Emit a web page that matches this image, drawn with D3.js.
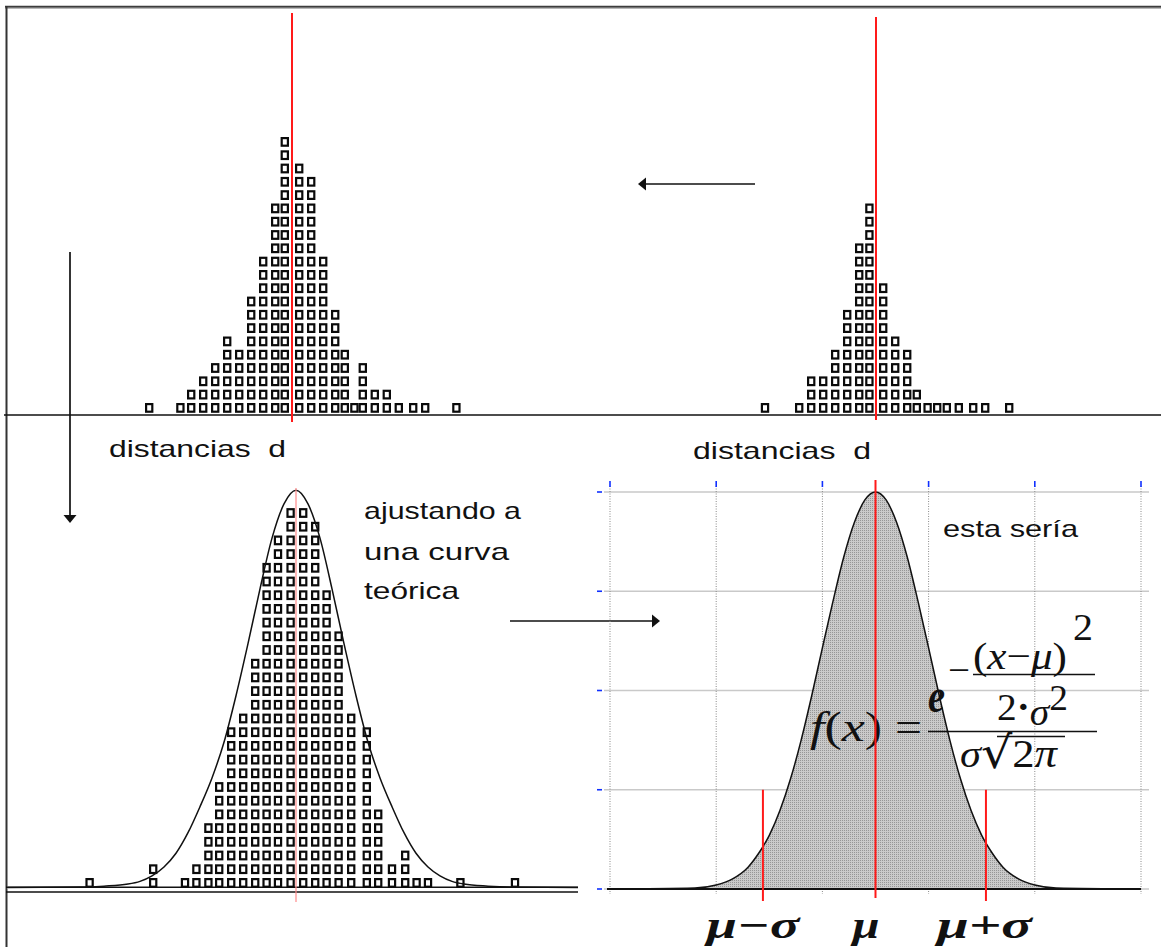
<!DOCTYPE html>
<html><head><meta charset="utf-8">
<script src="https://cdn.jsdelivr.net/npm/d3@7"></script>
<style>body{margin:0;background:#fff} svg{display:block}</style>
</head><body>
<script>
// ---------- DATA ----------
// Panel A (top-left): dot plot of distances d, column position (relative to mean) and number of stacked points
const sampleA_pos = [-11.9,-9.3,-8.4,-7.4,-6.4,-5.4,-4.4,-3.4,-2.4,-1.4,-0.6,0.6,1.6,2.6,3.6,4.4,5.2,5.9,6.9,7.9,8.9,10.1,11.1,13.7];
const sampleA_cnt = [1,1,2,3,4,6,5,9,12,16,21,19,18,12,8,5,1,4,2,2,1,1,1,1];
// Panel B (top-right)
const sampleB_pos = [-9.25,-6.4,-5.4,-4.4,-3.4,-2.4,-1.4,-0.55,0.6,1.6,2.6,3.4,4.3,5.1,5.9,6.9,8.1,9.1,11.1];
const sampleB_cnt = [1,1,3,3,5,8,13,16,10,6,5,2,1,1,1,1,1,1,1];
// Panel C (bottom-left): larger sample fitted by a curve
const sampleC_pos = [-17.2,-11.9,-9.25,-8.3,-7.3,-6.4,-5.4,-4.4,-3.4,-2.45,-1.5,-0.45,0.6,1.6,2.55,3.55,4.6,5.9,6.85,8.0,9.1,10.05,11.0,13.7,18.25];
const sampleC_cnt = [1,2,1,2,5,8,12,13,17,24,26,28,28,27,22,19,13,12,6,2,3,1,1,1,1];
// fitted curve traced over panel C (d, height in point-count units)
const curveC_d = [-24,-18,-16,-14,-13,-12,-11,-10,-9,-8,-7,-6,-5,-4,-3,-2,-1,0,1,2,3,4,5,6,7,8,9,10,11,12,13,14,16,18,23.5];
const curveC_h = [0,0.03,0.1,0.25,0.45,0.85,1.5,2.5,4.0,5.9,8.0,10.6,14.0,17.8,21.8,25.5,28.0,29,28.0,25.5,21.8,17.8,14.0,10.6,8.0,5.9,4.0,2.5,1.5,0.85,0.45,0.25,0.1,0.03,0];
// Panel D (bottom-right): theoretical curve on a grid
const curveD_x = [0,0.8,1.0,1.15,1.3,1.4,1.5,1.6,1.7,1.8,1.9,2.0,2.1,2.2,2.3,2.4,2.5,2.6,2.7,2.8,2.9,3.0,3.1,3.2,3.3,3.4,3.5,3.6,3.7,3.85,4.0,4.2,5.0];
const curveD_y = [0,0.01,0.04,0.10,0.22,0.36,0.54,0.79,1.11,1.50,1.95,2.43,2.90,3.34,3.69,3.92,4.0,3.92,3.69,3.34,2.90,2.43,1.95,1.50,1.11,0.79,0.54,0.36,0.22,0.10,0.04,0.01,0];
const muD = 2.5;
const sigmaMarksD = [1.44, 3.54];
const gridXD = [0,1,2,3,4,5];
const gridYD = [0,1,2,3,4];
const labelsD = ["μ−σ","μ","μ+σ"];

// ---------- SETUP ----------
const W = 1161, H = 947;
const svg = d3.select("body").append("svg").attr("width", W).attr("height", H);
const defs = svg.append("defs");
const pat = defs.append("pattern").attr("id","dots").attr("width",2).attr("height",2).attr("patternUnits","userSpaceOnUse");
pat.append("rect").attr("width",2).attr("height",2).attr("fill","#cacaca");
pat.append("rect").attr("width",1).attr("height",1).attr("fill","#969696");

const sans = "'Liberation Sans', Arial, sans-serif";
const serif = "'Liberation Serif', 'Times New Roman', serif";

// scales
const xA = d3.scaleLinear().domain([-20,20]).range([292-240, 292+240]);
const xB = d3.scaleLinear().domain([-20,20]).range([876-240, 876+240]);
const yTop = d3.scaleLinear().domain([0,30]).range([412.5, 412.5-30*13.3]);
const xC = d3.scaleLinear().domain([-24,23.5]).range([8,578]);
const yC = d3.scaleLinear().domain([0,30]).range([887.5, 887.5-30*13.7]);
const xD = d3.scaleLinear().domain([0,5]).range([610,1141]);
const yD = d3.scaleLinear().domain([0,4]).range([889,492]);

// ---------- FRAME ----------
svg.append("line").attr("x1",5).attr("x2",W).attr("y1",6.8).attr("y2",6.8).attr("stroke","#3c3c3c").attr("stroke-width",2);
svg.append("line").attr("x1",5).attr("x2",W).attr("y1",8.4).attr("y2",8.4).attr("stroke","#b0b0b0").attr("stroke-width",1);
svg.append("line").attr("x1",6.5).attr("x2",6.5).attr("y1",6).attr("y2",H).attr("stroke","#333").attr("stroke-width",2);
// top baseline
svg.append("line").attr("x1",4).attr("x2",W).attr("y1",415).attr("y2",415).attr("stroke","#111").attr("stroke-width",1.6);

// ---------- DOT PLOTS ----------
function pile(g, xs, pos, cnt, ys){
  const pts = [];
  pos.forEach((p,j)=>{ for(let i=0;i<cnt[j];i++) pts.push([p,i]); });
  g.selectAll("rect.pt").data(pts).join("rect").attr("class","pt")
    .attr("x", d=>xs(d[0])-3.1).attr("y", d=>ys(d[1])-8.4)
    .attr("width",6.2).attr("height",7.6)
    .attr("fill","#fff").attr("stroke","#0a0a0a").attr("stroke-width",2.2);
}
pile(svg.append("g"), xA, sampleA_pos, sampleA_cnt, yTop);
pile(svg.append("g"), xB, sampleB_pos, sampleB_cnt, yTop);

// red mean lines top
svg.append("line").attr("x1",xA(0)).attr("x2",xA(0)).attr("y1",13).attr("y2",422).attr("stroke","#ff1a1a").attr("stroke-width",2);
svg.append("line").attr("x1",xB(0)).attr("x2",xB(0)).attr("y1",17).attr("y2",420).attr("stroke","#ff1a1a").attr("stroke-width",2);

// ---------- ARROWS ----------
function arrow(x1,y1,x2,y2){
  const ang = Math.atan2(y2-y1,x2-x1), L=8, Wd=6.5;
  const bx = x2 - L*Math.cos(ang), by = y2 - L*Math.sin(ang);
  svg.append("line").attr("x1",x1).attr("y1",y1).attr("x2",bx).attr("y2",by).attr("stroke","#111").attr("stroke-width",1.7);
  const p = [[x2,y2],[bx - Wd*Math.sin(ang), by + Wd*Math.cos(ang)],[bx + Wd*Math.sin(ang), by - Wd*Math.cos(ang)]];
  svg.append("polygon").attr("points", p.map(d=>d.join(",")).join(" ")).attr("fill","#111");
}
arrow(755,184,638,184);
arrow(70,252,70,523);
arrow(510,621,660,621);

// ---------- TEXTS ----------
function txt(s,x,y,len,opts={}){
  const t = svg.append("text").attr("x",x).attr("y",y)
    .attr("font-family",opts.family||sans).attr("font-size",opts.size||24)
    .attr("font-style",opts.style||"normal").attr("font-weight",opts.weight||"normal")
    .attr("fill",opts.fill||"#111").attr("text-anchor",opts.anchor||"start")
    .style("white-space","pre").text(s);
  if(len) t.attr("textLength",len).attr("lengthAdjust","spacingAndGlyphs");
  return t;
}
txt("distancias  d",109,457,177);
txt("distancias  d",693,459,178);
txt("ajustando a",364,519,157);
txt("una curva",364,560,145);
txt("teórica",364,599,95);

// ---------- PANEL C ----------
svg.append("line").attr("x1",6).attr("x2",578).attr("y1",887.3).attr("y2",887.3).attr("stroke","#111").attr("stroke-width",1.5);
svg.append("line").attr("x1",6).attr("x2",578).attr("y1",892).attr("y2",892).attr("stroke","#111").attr("stroke-width",1.5);
pile(svg.append("g"), xC, sampleC_pos, sampleC_cnt, yC);
const curveC = curveC_d.map((d,i)=>[d,curveC_h[i]]);
svg.append("path").datum(curveC)
  .attr("d", d3.line().x(d=>xC(d[0])).y(d=>yC(d[1])).curve(d3.curveMonotoneX))
  .attr("fill","none").attr("stroke","#111").attr("stroke-width",1.5);
svg.append("line").attr("x1",xC(0)).attr("x2",xC(0)).attr("y1",488).attr("y2",902).attr("stroke","#ff8a8a").attr("stroke-width",1.2);

// ---------- PANEL D ----------
const gD = svg.append("g");
gridYD.forEach(v=>{
  gD.append("line").attr("x1",604).attr("x2",1149).attr("y1",yD(v)).attr("y2",yD(v)).attr("stroke","#c9c9c9").attr("stroke-width",1.5);
  gD.append("line").attr("x1",597).attr("x2",602).attr("y1",yD(v)).attr("y2",yD(v)).attr("stroke","#1030ff").attr("stroke-width",1.6);
});
gridXD.forEach(v=>{
  gD.append("line").attr("x1",xD(v)).attr("x2",xD(v)).attr("y1",486).attr("y2",894).attr("stroke","#8a8a8a").attr("stroke-width",1).attr("stroke-dasharray","1,1.5");
  gD.append("line").attr("x1",xD(v)).attr("x2",xD(v)).attr("y1",481).attr("y2",487).attr("stroke","#1030ff").attr("stroke-width",1.6);
});
const curveD = curveD_x.map((d,i)=>[d,curveD_y[i]]);
gD.append("path").datum(curveD)
  .attr("d", d3.area().x(d=>xD(d[0])).y0(yD(0)).y1(d=>yD(d[1])).curve(d3.curveMonotoneX))
  .attr("fill","url(#dots)");
gD.append("line").attr("x1",607).attr("x2",1141).attr("y1",yD(0)).attr("y2",yD(0)).attr("stroke","#111").attr("stroke-width",2);
gD.append("path").datum(curveD)
  .attr("d", d3.line().x(d=>xD(d[0])).y(d=>yD(d[1])).curve(d3.curveMonotoneX))
  .attr("fill","none").attr("stroke","#111").attr("stroke-width",1.5);

txt("esta sería",943,537,135);

// formula
const fx = svg.append("text").attr("x",810).attr("y",741).attr("font-family",serif).attr("font-size",42)
  .attr("fill","#111").attr("textLength",72).attr("lengthAdjust","spacingAndGlyphs");
fx.append("tspan").attr("font-style","italic").text("f");
fx.append("tspan").text("(");
fx.append("tspan").attr("font-style","italic").text("x");
fx.append("tspan").text(")");
txt("=",895,741,27,{family:serif,size:42});
svg.append("line").attr("x1",928).attr("x2",1097).attr("y1",731.5).attr("y2",731.5).attr("stroke","#111").attr("stroke-width",1.5);
txt("e",928,712,17,{family:serif,size:48,style:"italic",weight:"bold"});
txt("−",948,683,22,{family:serif,size:38});
const ex = svg.append("text").attr("x",973).attr("y",669).attr("font-family",serif).attr("font-size",38)
  .attr("fill","#111").attr("textLength",94).attr("lengthAdjust","spacingAndGlyphs");
ex.append("tspan").text("(");
ex.append("tspan").attr("font-style","italic").text("x");
ex.append("tspan").text("−");
ex.append("tspan").attr("font-style","italic").text("μ");
ex.append("tspan").text(")");
txt("2",1073,640,20,{family:serif,size:37});
svg.append("line").attr("x1",973).attr("x2",1095).attr("y1",674.5).attr("y2",674.5).attr("stroke","#111").attr("stroke-width",1.5);
// 2·σ² in one text
const dd = svg.append("text").attr("x",997).attr("y",720).attr("font-family",serif).attr("font-size",38)
  .attr("fill","#111").attr("textLength",71).attr("lengthAdjust","spacingAndGlyphs");
dd.append("tspan").text("2");
dd.append("tspan").attr("font-weight","bold").text("·");
dd.append("tspan").attr("font-style","italic").attr("dy",5).text("σ");
dd.append("tspan").attr("dy",-15).attr("font-size",36).text("2");
// σ√2π in one text
const rt = svg.append("text").attr("x",960).attr("y",767).attr("font-family",serif).attr("font-size",38)
  .attr("fill","#111").attr("textLength",97).attr("lengthAdjust","spacingAndGlyphs");
rt.append("tspan").attr("font-style","italic").text("σ");
rt.append("tspan").attr("font-family","'DejaVu Serif', serif").attr("font-size",44).attr("dy",1).text("√");
rt.append("tspan").attr("dy",-1).attr("font-size",40).text("2");
rt.append("tspan").attr("font-style","italic").attr("font-size",40).text("π");
svg.append("line").attr("x1",997).attr("x2",1065).attr("y1",736.5).attr("y2",736.5).attr("stroke","#111").attr("stroke-width",1.6);

// red marker lines
sigmaMarksD.forEach(v=>{
  svg.append("line").attr("x1",xD(v)).attr("x2",xD(v)).attr("y1",yD(1)).attr("y2",901).attr("stroke","#ff1a1a").attr("stroke-width",2);
});
svg.append("line").attr("x1",xD(muD)).attr("x2",xD(muD)).attr("y1",480).attr("y2",898).attr("stroke","#ff1a1a").attr("stroke-width",2);

// labels under panel D
const labX = [xD(sigmaMarksD[0])-10, xD(muD)-9.5, xD(sigmaMarksD[1])-1.5];
const labLen = [93,27,95];
labelsD.forEach((s,i)=>{
  txt(s,labX[i],938,labLen[i],{family:serif,size:38,style:"italic",weight:"bold",anchor:"middle"});
});
</script>
</body></html>
